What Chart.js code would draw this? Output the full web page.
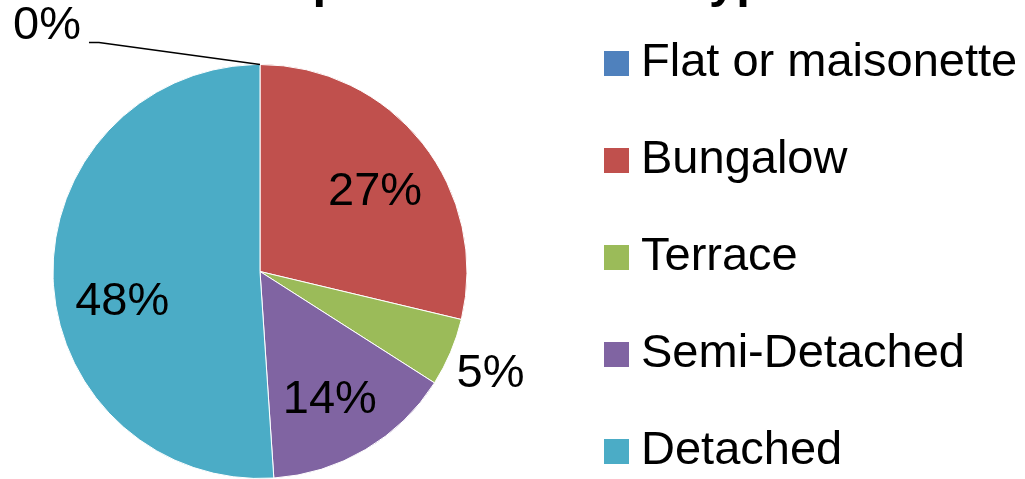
<!DOCTYPE html>
<html lang="en">

<head>
    <meta charset="UTF-8">
    <title>Respondent House Type</title>
    <style>
        body {
            margin: 0;
            background: #ffffff;
            font-family: "Liberation Sans", Arial, sans-serif;
        }

        #chart-container {
            width: 1025px;
            height: 479px;
        }
    </style>
</head>

<body>
    <div id="chart-container">
        <canvas id="chart" width="1025" height="479"></canvas>
    </div>

    <script src="https://cdn.jsdelivr.net/npm/chart.js"></script>
    <script>
        // Data (shown as %, pie normalises them)
        const categories = ['Flat or maisonette', 'Bungalow', 'Terrace', 'Semi-Detached', 'Detached'];
        const shares = [0, 27, 5, 14, 48];
        const titleText = 'Respondent House Type';

        // Office palette
        const sliceColors = ['#4F81BD', '#C0504D', '#9BBB59', '#8064A2', '#4BACC6'];

        // How each percentage label sits (like Excel "best fit")
        const labelPlacement = [
            { mode: 'leader', dx: -213, dy: -38 },
            { mode: 'inside', dx: 3, dy: 9 },
            { mode: 'outside', dx: -2, dy: 4 },
            { mode: 'inside', dx: -3, dy: 6 },
            { mode: 'inside', dx: 5, dy: 26 }
        ];

        const FONT = '"Liberation Sans", Arial, sans-serif';

        // Title is cut off by the top edge of the picture
        const cutTitle = {
            id: 'cutTitle',
            afterDraw(chart) {
                const ctx = chart.ctx;
                ctx.save();
                ctx.font = 'bold 49px ' + FONT;
                ctx.fillStyle = '#000';
                ctx.textAlign = 'center';
                ctx.textBaseline = 'alphabetic';
                ctx.fillText(titleText, 508, -3);
                ctx.restore();
            }
        };

        // Percentage labels on / beside the slices
        const sliceLabels = {
            id: 'sliceLabels',
            afterDatasetsDraw(chart) {
                const ctx = chart.ctx;
                const meta = chart.getDatasetMeta(0);
                ctx.save();
                ctx.font = '47px ' + FONT;
                ctx.fillStyle = '#000';
                ctx.textAlign = 'center';
                ctx.textBaseline = 'middle';
                meta.data.forEach((arc, i) => {
                    const p = arc.getProps(['x', 'y', 'startAngle', 'endAngle', 'outerRadius'], true);
                    const mid = (p.startAngle + p.endAngle) / 2;
                    const place = labelPlacement[i];
                    const text = shares[i] + '%';
                    let f = 0.69;
                    if (place.mode === 'outside') f = 1.22;
                    if (place.mode === 'leader') f = 1;
                    const ax = p.x + Math.cos(mid) * p.outerRadius * f;
                    const ay = p.y + Math.sin(mid) * p.outerRadius * f;
                    const lx = ax + place.dx;
                    const ly = ay + place.dy;
                    if (place.mode === 'leader') {
                        const w = ctx.measureText(text).width;
                        const ex = lx + w / 2 + 8;
                        const ey = ly + 16;
                        ctx.beginPath();
                        ctx.moveTo(ax, ay);
                        ctx.lineTo(ex + 10, ey);
                        ctx.lineTo(ex, ey);
                        ctx.lineWidth = 1.5;
                        ctx.strokeStyle = '#000';
                        ctx.stroke();
                    }
                    ctx.fillText(text, lx, ly);
                });
                ctx.restore();
            }
        };

        // Legend on the right, one wide row per category
        const sideLegend = {
            id: 'sideLegend',
            afterDraw(chart) {
                const ctx = chart.ctx;
                const left = chart.chartArea.right + 84;
                const rowH = 97;
                const top = 15;
                ctx.save();
                ctx.font = '47px ' + FONT;
                ctx.textAlign = 'left';
                ctx.textBaseline = 'middle';
                categories.forEach((name, i) => {
                    const cy = top + rowH * (i + 0.5);
                    ctx.fillStyle = sliceColors[i];
                    ctx.fillRect(left, cy - 12.5, 25, 25);
                    ctx.fillStyle = '#000';
                    ctx.fillText(name, left + 37, cy);
                });
                ctx.restore();
            }
        };

        const ctx = document.getElementById('chart').getContext('2d');
        const pieChart = new Chart(ctx, {
            type: 'pie',
            data: {
                labels: categories,
                datasets: [{
                    data: shares,
                    backgroundColor: sliceColors,
                    borderColor: '#ffffff',
                    borderWidth: 1,
                    hoverOffset: 0
                }]
            },
            options: {
                responsive: false,
                animation: false,
                layout: {
                    padding: { top: 64, left: 0, right: 505, bottom: -1 }
                },
                plugins: {
                    legend: { display: false },
                    title: { display: false },
                    tooltip: { enabled: false }
                }
            },
            plugins: [sliceLabels, sideLegend, cutTitle]
        });
    </script>
</body>

</html>
